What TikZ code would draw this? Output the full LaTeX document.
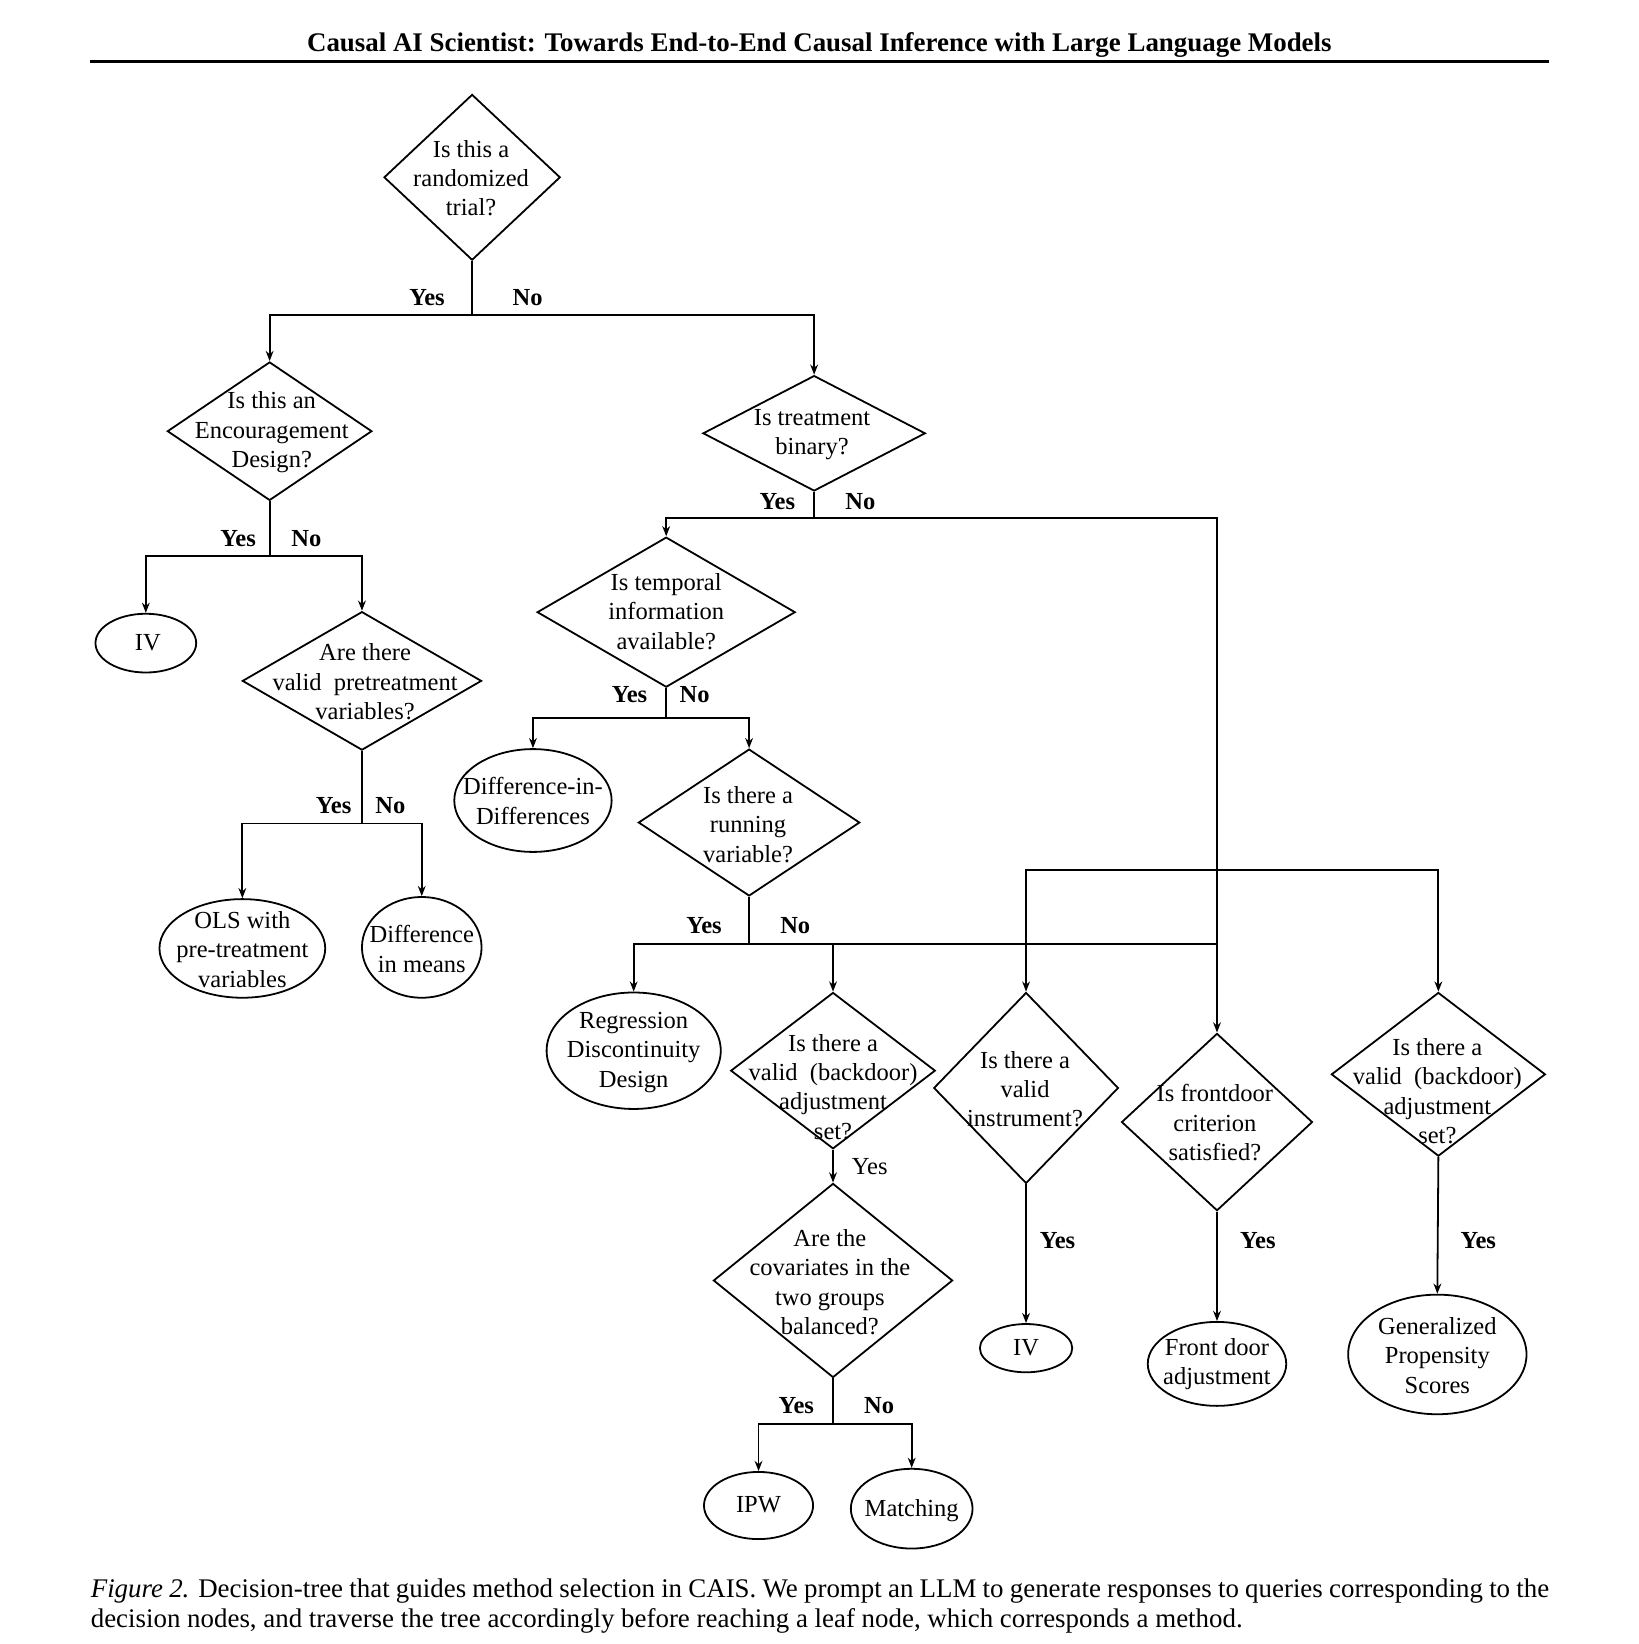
\documentclass[tikz,border=0pt]{standalone}
\usepackage{fontspec}
\setmainfont{Liberation Serif}
\usetikzlibrary{shapes.geometric,arrows.meta}
\begin{document}
\begin{tikzpicture}[x=0.351pt,y=-0.351pt,
  every node/.style={font=\fontsize{8.2}{9.8}\selectfont},
  line/.style={line width=0.6pt},
  arr/.style={line width=0.6pt,-{Stealth[length=3.4pt,width=2.6pt]}},
  dia/.style 2 args={draw,diamond,inner sep=0pt,line width=0.6pt,minimum width=#1*0.351pt,minimum height=#2*0.351pt},
  ell/.style 2 args={draw,ellipse,inner sep=0pt,line width=0.6pt,minimum width=#1*0.351pt,minimum height=#2*0.351pt},
  txt/.style={align=center,inner sep=0pt},
  yn/.style={font=\fontsize{8.2}{9.8}\selectfont\bfseries,inner sep=0pt},
  ynp/.style={font=\fontsize{8.2}{9.8}\selectfont,inner sep=0pt}]
\useasboundingbox (0,0) rectangle (1562,1567);
% header
\node[font=\fontsize{9}{10}\selectfont\bfseries,inner sep=0pt] (title) at (781,42.5) {Causal AI Scientist: Towards End-to-End Causal Inference with Large Language Models};
\coordinate (rl) at (86,58.5);
\coordinate (rr) at (1476,58.5);
\draw[line width=1pt] (rl) -- (rr);
% diamonds
\node[dia={168}{158}] (d1) at (450,169) {};
\node[dia={195}{132}] (d2) at (257,411) {};
\node[dia={212}{110}] (d3) at (776,413) {};
\node[dia={228}{132}] (d4) at (345,649) {};
\node[dia={246}{143}] (d5) at (635,583.5) {};
\node[dia={211}{140}] (d6) at (714,784) {};
\node[dia={195}{149}] (d7) at (794,1020.5) {};
\node[dia={228}{185}] (d10) at (794,1220.5) {};
\node[dia={176}{182}] (d8) at (978,1037) {};
\node[dia={182}{169}] (d9) at (1160,1069.5) {};
\node[dia={204}{156}] (d11) at (1371,1024) {};
% diamond texts
\node[txt] (t1) at (449,170) {Is this a\\randomized\\trial?};
\node[txt] (t2) at (259,412) {Is this an\\Encouragement\\Design?};
\node[txt] (t3) at (774,414) {Is treatment\\binary?};
\node[txt] (t4) at (348,650) {Are there\\valid\ \ pretreatment\\variables?};
\node[txt] (t5) at (635,583) {Is temporal\\information\\available?};
\node[txt] (t6) at (713,786) {Is there a\\running\\variable?};
\node[txt] (t7) at (794,1036) {Is there a\\valid\ \ (backdoor)\\adjustment\\set?};
\node[txt] (t10) at (791,1222) {Are the\\covariates in the\\two groups\\balanced?};
\node[txt] (t8) at (977,1038) {Is there a\\valid\\instrument?};
\node[txt] (t9) at (1158,1070) {Is frontdoor\\criterion\\satisfied?};
\node[txt] (t11) at (1370,1040) {Is there a\\valid\ \ (backdoor)\\adjustment\\set?};
% ellipses
\node[ell={96}{56}] (e1) at (139,613) {};
\node[ell={158}{94}] (e2) at (231,904) {};
\node[ell={114}{96}] (e3) at (402,903) {};
\node[ell={150}{98}] (e4) at (508,763) {};
\node[ell={166}{111}] (e5) at (604,1001.5) {};
\node[ell={104}{64}] (e6) at (723,1435) {};
\node[ell={116}{76}] (e7) at (869,1438) {};
\node[ell={88}{46}] (e8) at (978,1285) {};
\node[ell={132}{80}] (e9) at (1160,1300) {};
\node[ell={170}{114}] (e10) at (1370,1291) {};
\node[txt] (s1) at (141,613) {IV};
\node[txt] (s2) at (231,905) {OLS with\\pre-treatment\\variables};
\node[txt] (s3) at (402,904.5) {Difference\\in means};
\node[txt] (s4) at (508,763.5) {Difference-in-\\Differences};
\node[txt] (s5) at (604,1003) {Regression\\Discontinuity\\Design};
\node[txt] (s6) at (723,1434) {IPW};
\node[txt] (s7) at (869,1440) {Matching};
\node[txt] (s8) at (978,1285) {IV};
\node[txt] (s9) at (1160,1300) {Front door\\adjustment};
\node[txt] (s10) at (1370,1292) {Generalized\\Propensity\\Scores};
% junctions
\coordinate (c1) at (450,300);
\coordinate (c2) at (257,530);
\coordinate (c3) at (345,785);
\coordinate (c4) at (776,494);
\coordinate (c5) at (1160,829);
\coordinate (c6) at (635,684);
\coordinate (c7) at (714,900);
\coordinate (c7r) at (1160,900);
\coordinate (c8) at (794,1357);
% connectors
\draw[line] (d1.south) -- (c1);
\draw[arr] (c1) -| (d2.north);
\draw[arr] (c1) -| (d3.north);
\draw[line] (d2.south) -- (c2);
\draw[arr] (c2) -| (e1.north);
\draw[arr] (c2) -| (d4.north);
\draw[line] (d4.south) -- (c3);
\draw[arr] (c3) -| (e2.north);
\draw[arr] (c3) -| (e3.north);
\draw[line] (d3.south) -- (c4);
\draw[arr] (c4) -| (d5.north);
\draw[arr] (c4) -| (d9.north);
\draw[arr] (c5) -| (d8.north);
\draw[arr] (c5) -| (d11.north);
\draw[line] (d5.south) -- (c6);
\draw[arr] (c6) -| (e4.north);
\draw[arr] (c6) -| (d6.north);
\draw[line] (d6.south) -- (c7);
\draw[arr] (c7) -| (e5.north);
\draw[arr] (c7) -| (d7.north);
\draw[line] (c7) -- (c7r);
\draw[arr] (d7.south) -- (d10.north);
\draw[line] (d10.south) -- (c8);
\draw[arr] (c8) -| (e6.north);
\draw[arr] (c8) -| (e7.north);
\draw[arr] (d8.south) -- (e8.north);
\draw[arr] (d9.south) -- (e9.north);
\draw[arr] (d11.south) -- (e10.north);
% labels
\node[yn] (y1) at (407,284) {Yes};
\node[yn] (n1) at (503,284) {No};
\node[yn] (y2) at (227,513) {Yes};
\node[yn] (n2) at (292,513) {No};
\node[yn] (y3) at (318,768) {Yes};
\node[yn] (n3) at (372,768) {No};
\node[yn] (y4) at (741,478) {Yes};
\node[yn] (n4) at (820,478) {No};
\node[yn] (y5) at (600,662) {Yes};
\node[yn] (n5) at (662,662) {No};
\node[yn] (y6) at (671,882) {Yes};
\node[yn] (n6) at (758,882) {No};
\node[ynp] (y7) at (829,1112) {Yes};
\node[yn] (y8) at (759,1340) {Yes};
\node[yn] (n8) at (838,1340) {No};
\node[yn] (y9) at (1008,1182) {Yes};
\node[yn] (y10) at (1199,1182) {Yes};
\node[yn] (y11) at (1409,1182) {Yes};
% caption
\node[anchor=north west,inner sep=0pt,text width=487.9pt,align=justify,font=\fontsize{9}{10}\selectfont] (cap) at (86,1504) {\textit{Figure 2.} Decision-tree that guides method selection in CAIS. We prompt an LLM to generate responses to queries corresponding to the decision nodes, and traverse the tree accordingly before reaching a leaf node, which corresponds a method.};
\end{tikzpicture}
\end{document}
